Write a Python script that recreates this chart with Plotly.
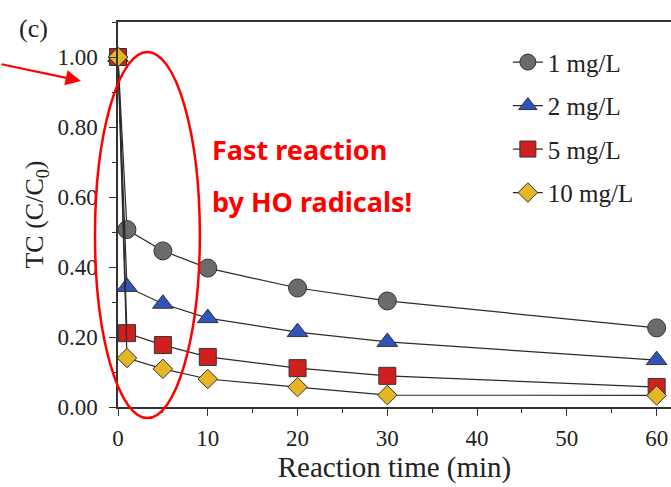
import plotly.graph_objects as go

time_min = [0, 1, 5, 10, 20, 30, 60]
tc_1 = [1.00, 0.507, 0.446, 0.397, 0.340, 0.303, 0.226]
tc_2 = [1.00, 0.343, 0.295, 0.254, 0.214, 0.186, 0.134]
tc_5 = [1.00, 0.211, 0.177, 0.143, 0.111, 0.089, 0.057]
tc_10 = [1.00, 0.140, 0.109, 0.080, 0.057, 0.034, 0.033]
series_names = ["1 mg/L", "2 mg/L", "5 mg/L", "10 mg/L"]
x_ticks = [0, 10, 20, 30, 40, 50, 60]
y_ticks = [0.0, 0.2, 0.4, 0.6, 0.8, 1.0]

styles = [
    dict(symbol="circle", color="#6b6b6b", size=18),
    dict(symbol="triangle-up", color="#2f55b8", size=18),
    dict(symbol="square", color="#d01f1f", size=17),
    dict(symbol="diamond", color="#e6b625", size=15),
]

SERIF = "Liberation Serif"
fig = go.Figure()
for i, (name, ys) in enumerate(zip(series_names, [tc_1, tc_2, tc_5, tc_10])):
    st = styles[i]
    fig.add_trace(go.Scatter(
        x=time_min, y=ys, name=name, mode="lines+markers",
        line=dict(color="#2b2b2b", width=1.2),
        marker=dict(symbol=st["symbol"], color=st["color"], size=st["size"],
                    line=dict(color="#333333", width=1)),
        cliponaxis=False, legendgroup=name,
    ))

fig.update_layout(
    width=671, height=487,
    margin=dict(l=118, r=0, t=22, b=80),
    paper_bgcolor="white", plot_bgcolor="white",
    font=dict(family=SERIF, size=23, color="#222222"),
    showlegend=True,
    legend=dict(x=0.705, y=0.955, xanchor="left", yanchor="top",
                font=dict(family=SERIF, size=25, color="#222222"),
                tracegroupgap=8, bgcolor="rgba(0,0,0,0)"),
    xaxis=dict(range=[0, 61.6], tickvals=x_ticks, ticks="outside", ticklen=7,
               tickcolor="#333", showline=True, linecolor="#333", linewidth=1.5,
               mirror=True, showgrid=False, zeroline=False, ticklabelstandoff=3,
               minor=dict(dtick=5, ticks="outside", ticklen=4, tickcolor="#333"),
               tickfont=dict(family=SERIF, size=23),
               title=dict(text="Reaction time (min)", font=dict(family=SERIF, size=29), standoff=4)),
    yaxis=dict(range=[0, 1.1], tickvals=y_ticks, tickformat=".2f", ticks="outside", ticklen=7,
               tickcolor="#333", showline=True, linecolor="#333", linewidth=1.5,
               showgrid=False, zeroline=False, ticklabelstandoff=7,
               minor=dict(dtick=0.1, ticks="outside", ticklen=4, tickcolor="#333"),
               tickfont=dict(family=SERIF, size=23),
               title=dict(text="TC (C/C<sub>0</sub>)", font=dict(family=SERIF, size=26), standoff=6)),
)

# red ellipse highlighting the fast reaction region
fig.add_shape(type="circle", xref="paper", yref="paper",
              x0=-0.0416, x1=0.148, y0=-0.0286, y1=0.922,
              line=dict(color="#ff0000", width=2.5), layer="above")

# red arrow
fig.add_annotation(xref="paper", yref="paper", x=-0.0669, y=0.847,
                   ax=-84, ay=-17, showarrow=True, arrowhead=2, arrowsize=1.4,
                   arrowwidth=2.2, arrowcolor="#ff0000", text="")

fig.add_annotation(xref="paper", yref="paper", x=0.166, y=0.67, xanchor="left",
                   yanchor="middle", showarrow=False, text="<b>Fast reaction</b>",
                   font=dict(family="Noto Sans", size=27, color="#ff0000"))
fig.add_annotation(xref="paper", yref="paper", x=0.166, y=0.533, xanchor="left",
                   yanchor="middle", showarrow=False, text="<b>by HO radicals!</b>",
                   font=dict(family="Noto Sans", size=27, color="#ff0000"))
fig.add_annotation(xref="paper", yref="paper", x=-0.182, y=0.982, xanchor="left",
                   yanchor="middle", showarrow=False, text="(c)",
                   font=dict(family=SERIF, size=26, color="#222222"))

fig.write_html("out.html")
